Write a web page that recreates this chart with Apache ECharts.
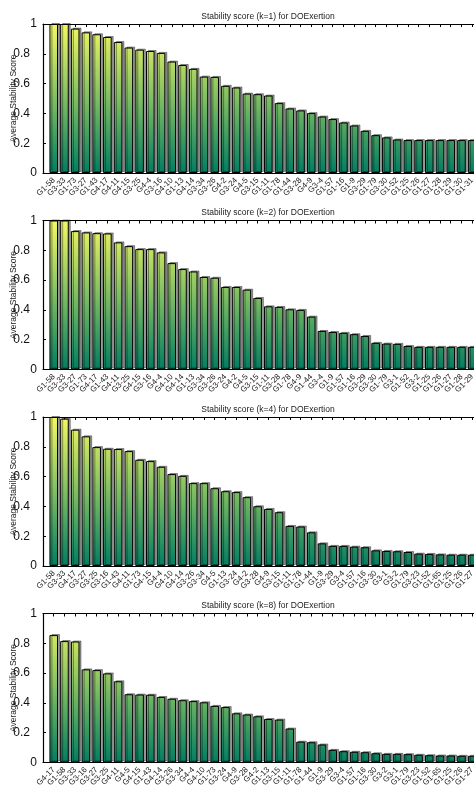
<!DOCTYPE html>
<html><head><meta charset="utf-8">
<script src="https://cdn.jsdelivr.net/npm/echarts@6/dist/echarts.min.js"></script>
<style>html,body{margin:0;padding:0;background:#fff;overflow:hidden}#c{width:474px;height:789px}</style>
</head><body><div id="c"></div>
<script>
const titles = [
  'Stability score (k=1) for DOExertion',
  'Stability score (k=2) for DOExertion',
  'Stability score (k=4) for DOExertion',
  'Stability score (k=8) for DOExertion'
];
const yAxisName = 'Average Stability Score';

const cats1 = ['G1-58','G3-33','G1-73','G3-27','G1-43','G4-17','G4-11','G4-15','G3-25','G4-4','G3-16','G4-10','G1-13','G4-14','G3-34','G3-26','G4-2','G3-24','G4-5','G3-15','G1-11','G1-78','G1-44','G3-28','G4-9','G3-4','G1-57','G1-16','G1-9','G3-29','G1-79','G3-30','G1-52','G1-25','G1-26','G1-27','G1-28','G1-29','G1-30','G1-31'];
const vals1 = [1.0,1.0,0.969,0.944,0.931,0.913,0.879,0.842,0.828,0.819,0.806,0.748,0.725,0.699,0.647,0.645,0.585,0.574,0.533,0.529,0.520,0.469,0.433,0.420,0.402,0.379,0.362,0.339,0.319,0.283,0.254,0.239,0.225,0.221,0.221,0.221,0.221,0.221,0.221,0.221];

const cats2 = ['G1-58','G3-33','G3-27','G1-73','G4-17','G1-43','G4-11','G3-25','G4-15','G3-16','G4-4','G4-10','G4-14','G1-13','G3-34','G3-26','G3-24','G4-2','G4-5','G3-15','G1-11','G3-28','G1-78','G4-9','G1-44','G3-4','G1-9','G1-57','G1-16','G3-29','G3-30','G1-79','G3-1','G1-52','G3-2','G1-25','G1-26','G1-27','G1-28','G1-29'];
const vals2 = [1.0,1.0,0.929,0.920,0.915,0.913,0.853,0.828,0.808,0.808,0.786,0.714,0.674,0.658,0.621,0.616,0.554,0.554,0.536,0.480,0.424,0.420,0.404,0.400,0.355,0.259,0.252,0.246,0.237,0.225,0.179,0.174,0.172,0.158,0.152,0.152,0.152,0.152,0.152,0.152];

const cats3 = ['G1-58','G3-33','G4-17','G3-27','G3-25','G3-16','G1-43','G4-11','G1-73','G4-15','G4-4','G4-10','G4-14','G3-26','G3-34','G4-5','G1-13','G3-24','G4-2','G3-28','G4-9','G3-15','G1-11','G1-78','G1-44','G1-9','G3-29','G3-4','G1-57','G1-16','G3-30','G3-1','G3-2','G1-79','G3-23','G1-52','G1-65','G1-25','G1-26','G1-27'];
const vals3 = [1.0,0.989,0.915,0.870,0.798,0.787,0.785,0.771,0.713,0.704,0.666,0.617,0.605,0.556,0.556,0.522,0.502,0.496,0.462,0.401,0.383,0.361,0.269,0.265,0.226,0.152,0.135,0.135,0.130,0.126,0.105,0.101,0.099,0.094,0.083,0.081,0.078,0.076,0.076,0.076];

const cats4 = ['G4-17','G1-58','G3-33','G3-16','G3-27','G3-25','G4-11','G4-5','G4-15','G1-43','G4-14','G3-26','G3-34','G4-4','G4-10','G1-73','G3-24','G4-9','G3-28','G4-2','G1-13','G3-15','G1-11','G1-78','G1-44','G1-9','G3-29','G3-4','G1-57','G1-16','G3-30','G3-2','G3-1','G1-79','G3-23','G1-52','G1-65','G1-25','G1-26','G1-27'];
const vals4 = [0.855,0.815,0.812,0.625,0.620,0.598,0.545,0.458,0.456,0.455,0.440,0.428,0.418,0.412,0.404,0.380,0.372,0.330,0.322,0.310,0.292,0.288,0.228,0.140,0.136,0.121,0.085,0.076,0.072,0.069,0.062,0.058,0.058,0.056,0.052,0.049,0.047,0.047,0.045,0.045];

const yTickLabels = ['0','0.2','0.4','0.6','0.8','1'];

const panels = [
  {cats: cats1, vals: vals1},
  {cats: cats2, vals: vals2},
  {cats: cats3, vals: vals3},
  {cats: cats4, vals: vals4}
];

const chart = echarts.init(document.getElementById('c'), null, {renderer: 'canvas'});
const FONT = 'Liberation Sans, Arial, Helvetica, sans-serif';
const LEFT = 43, PITCH = 10.73, N = 40;
const PW = PITCH * (N + 1);
const TOPS = [24, 220.5, 417, 613.5], H = 149;

const grid = [], xAxis = [], yAxis = [], series = [], title = [];
panels.forEach((p, i) => {
  const top = TOPS[i];
  grid.push({left: LEFT, top: top, width: PW, height: H, containLabel: false, outerBoundsMode: 'none'});
  title.push({
    text: titles[i], left: LEFT + PW / 2, top: top - 17, textAlign: 'center',
    textStyle: {fontFamily: FONT, fontSize: 8.5, fontWeight: 'normal', color: '#222'}
  });
  xAxis.push({
    type: 'value', gridIndex: i, min: 0, max: N + 1, interval: 1, position: 'bottom',
    axisLine: {show: true, onZero: false, lineStyle: {color: '#000', width: 1.2}},
    axisTick: {show: true, inside: true, length: 3, lineStyle: {color: '#000'}},
    splitLine: {show: false},
    axisLabel: {
      show: true, rotate: 45, margin: 6, fontFamily: FONT, fontSize: 8, color: '#222',
      showMinLabel: true, showMaxLabel: true, hideOverlap: false,
      formatter: (v) => (v >= 1 && v <= N) ? p.cats[Math.round(v) - 1] : ''
    }
  });
  xAxis.push({
    type: 'value', gridIndex: i, min: 0, max: N + 1, interval: 1, position: 'top',
    axisLine: {show: true, onZero: false, lineStyle: {color: '#000', width: 1.2}},
    axisTick: {show: true, inside: true, length: 3, lineStyle: {color: '#000'}},
    splitLine: {show: false},
    axisLabel: {show: false}
  });
  yAxis.push({
    type: 'value', gridIndex: i, min: 0, max: 1, interval: 0.2,
    name: yAxisName, nameLocation: 'middle', nameGap: 25, nameRotate: 90,
    nameMoveOverlap: false,
    nameTextStyle: {fontFamily: FONT, fontSize: 8.5, color: '#222'},
    axisLine: {show: true, lineStyle: {color: '#000', width: 1.2}},
    axisTick: {show: true, inside: true, length: 3, lineStyle: {color: '#000'}},
    splitLine: {show: false},
    axisLabel: {
      margin: 6, fontFamily: FONT, fontSize: 12, color: '#111',
      formatter: (v) => {
        const idx = Math.round(v * 5);
        const t = yTickLabels[idx];
        return (idx === 0 || idx === 5) ? '{w|' + t + '}' : '{w|' + t + '}{s| }';
      },
      rich: {
        w: {fontFamily: FONT, fontSize: 12, color: '#111'},
        s: {fontFamily: FONT, fontSize: 12, width: 7}
      }
    }
  });
  const grad = new echarts.graphic.LinearGradient(0, top, 0, top + H, [
    {offset: 0, color: '#f3f864'},
    {offset: 0.5, color: '#7fbe63'},
    {offset: 1, color: '#037d62'}
  ], true);
  series.push({
    type: 'bar', xAxisIndex: i * 2, yAxisIndex: i,
    data: p.vals.map((v, k) => [k + 1, v]),
    barWidth: PITCH * 0.8,
    itemStyle: {
      color: grad, borderColor: '#000', borderWidth: 1,
      shadowColor: 'rgba(0,0,0,0.38)', shadowBlur: 0, shadowOffsetX: 2, shadowOffsetY: -1
    },
    emphasis: {disabled: true},
    animation: false
  });
});

chart.setOption({
  backgroundColor: '#fff',
  animation: false,
  title, grid, xAxis, yAxis, series
});
</script>
</body></html>
